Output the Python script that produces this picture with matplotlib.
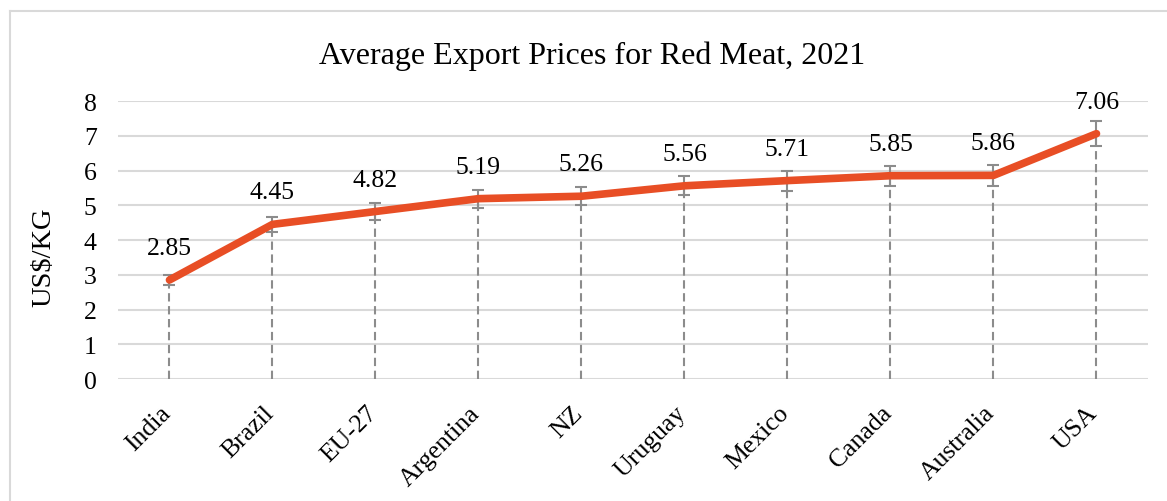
import matplotlib
matplotlib.use("Agg")
import matplotlib.pyplot as plt
from matplotlib.lines import Line2D
from matplotlib.transforms import ScaledTranslation

categories = ["India", "Brazil", "EU-27", "Argentina", "NZ", "Uruguay",
              "Mexico", "Canada", "Australia", "USA"]
prices = [2.85, 4.45, 4.82, 5.19, 5.26, 5.56, 5.71, 5.85, 5.86, 7.06]
error_frac = 0.05
yticks = [0, 1, 2, 3, 4, 5, 6, 7, 8]

plt.rcParams['font.family'] = ['Liberation Serif', 'DejaVu Serif']

fig = plt.figure(figsize=(11.67, 5.02), dpi=100)
ax = fig.add_axes([0.1011, 0.2430, 0.8826, 0.5538])

x = list(range(len(categories)))
line_color = "#E84E25"
gray = "#8C8C8C"
fs = 18.5

# drop lines
ax.vlines(x, 0, prices, colors=gray, linestyles=(0, (4, 2.2)), linewidth=1.5, zorder=2)
# error bars
errs = [p * error_frac for p in prices]
ax.errorbar(x, prices, yerr=errs, fmt='none', ecolor=gray, elinewidth=1.5,
            capsize=4, capthick=1.5, zorder=3)
# main line
ax.plot(x, prices, color=line_color, linewidth=5.5, solid_capstyle='round',
        solid_joinstyle='round', zorder=4)

for xi, p in zip(x, prices):
    ax.annotate(f"{p:.2f}", (xi, p), xytext=(0, 23), textcoords='offset points',
                ha='center', va='center', fontsize=fs, color='black')

ax.set_xlim(-0.5, len(categories) - 0.5)
ax.set_ylim(0, 8)
ax.set_yticks(yticks)
ax.set_yticklabels([str(t) for t in yticks], fontsize=fs)
ax.set_xticks(x)
ax.set_xticklabels(categories, rotation=45, ha='right', rotation_mode='anchor',
                   fontsize=fs)
ax.tick_params(axis='x', length=0, pad=14)
ax.tick_params(axis='y', length=0, pad=20)
for lbl in ax.get_yticklabels():
    lbl.set_horizontalalignment('center')
shift = ScaledTranslation(-10 / 100, -3 / 100, fig.dpi_scale_trans)
for lbl in ax.get_xticklabels():
    lbl.set_transform(lbl.get_transform() + shift)
ax.grid(axis='y', color='#D9D9D9', linewidth=1.5, zorder=0)
ax.set_axisbelow(True)
for s in ax.spines.values():
    s.set_visible(False)

ax.set_ylabel("US$/KG", fontsize=20.5)
ax.yaxis.set_label_coords(-0.060, 0.442)

fig.text(0.507, 0.887, "Average Export Prices for Red Meat, 2021",
         ha='center', va='center', fontsize=23)

# outer frame (left and top)
fig.add_artist(Line2D([10/1167, 10/1167], [0, 1 - 12/502], color='#D9D9D9',
                      linewidth=1.5, transform=fig.transFigure))
fig.add_artist(Line2D([10/1167, 1], [1 - 12/502, 1 - 12/502], color='#D9D9D9',
                      linewidth=1.5, transform=fig.transFigure))

fig.savefig("out.png", dpi=100)
